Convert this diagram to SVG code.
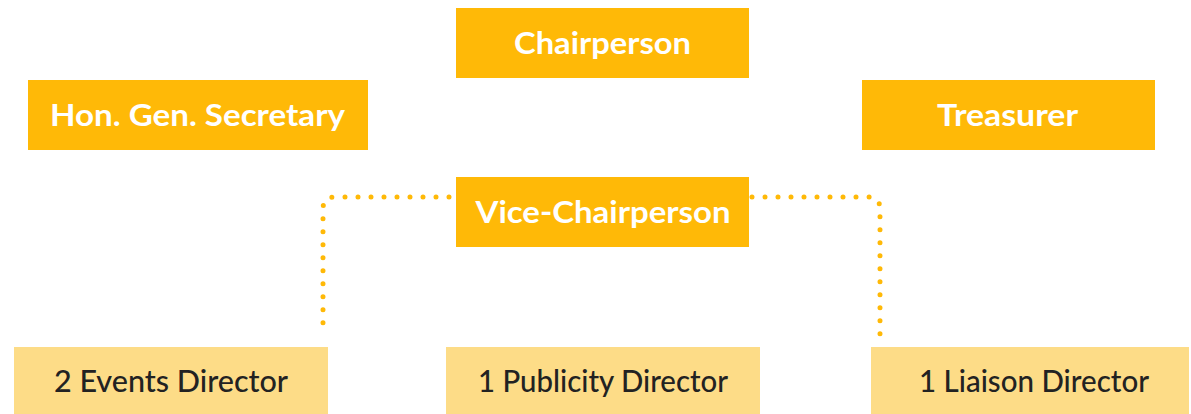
<svg xmlns="http://www.w3.org/2000/svg" width="1191" height="414" viewBox="0 0 1191 414">
<style>
.top rect{fill:#FFB907}
.top text{fill:#fff;font-family:Lato,"Open Sans",sans-serif;font-weight:700;font-size:30px;text-anchor:middle}
.sub rect{fill:#FDDC87}
.sub text{fill:#222;font-family:Lato,"Open Sans",sans-serif;font-weight:500;font-size:30px;text-anchor:middle}
.con path{fill:none;stroke:#FFB907;stroke-width:5;stroke-linecap:round;stroke-dasharray:0 13}
</style>
<rect width="1191" height="414" fill="#fff"/>
<g class="con" id="connectors">
<path d="M449 197 H335 Q323 197 323 209 V327"/>
<path d="M752 197 H868 Q880 197 880 209 V336"/>
</g>
<g class="top" id="chairperson"><rect x="456" y="8" width="293" height="70"/><text x="602.5" y="53.5" textLength="177" lengthAdjust="spacingAndGlyphs">Chairperson</text></g>
<g class="top" id="secretary"><rect x="28" y="80" width="340" height="70"/><text x="197.5" y="125.5" textLength="295" lengthAdjust="spacingAndGlyphs">Hon. Gen. Secretary</text></g>
<g class="top" id="treasurer"><rect x="862" y="80" width="293" height="70"/><text x="1007.5" y="125.5" textLength="141" lengthAdjust="spacingAndGlyphs">Treasurer</text></g>
<g class="top" id="vice"><rect x="456" y="177" width="293" height="70"/><text x="603" y="222.5" textLength="255" lengthAdjust="spacingAndGlyphs">Vice-Chairperson</text></g>
<g class="sub" id="events"><rect x="14" y="347" width="314" height="67"/><text x="171" y="392" textLength="234" lengthAdjust="spacingAndGlyphs">2 Events Director</text></g>
<g class="sub" id="publicity"><rect x="446" y="347" width="314" height="67"/><text x="603" y="392" textLength="250" lengthAdjust="spacingAndGlyphs">1 Publicity Director</text></g>
<g class="sub" id="liaison"><rect x="871" y="347" width="318" height="67"/><text x="1034" y="392" textLength="230" lengthAdjust="spacingAndGlyphs">1 Liaison Director</text></g>
</svg>
